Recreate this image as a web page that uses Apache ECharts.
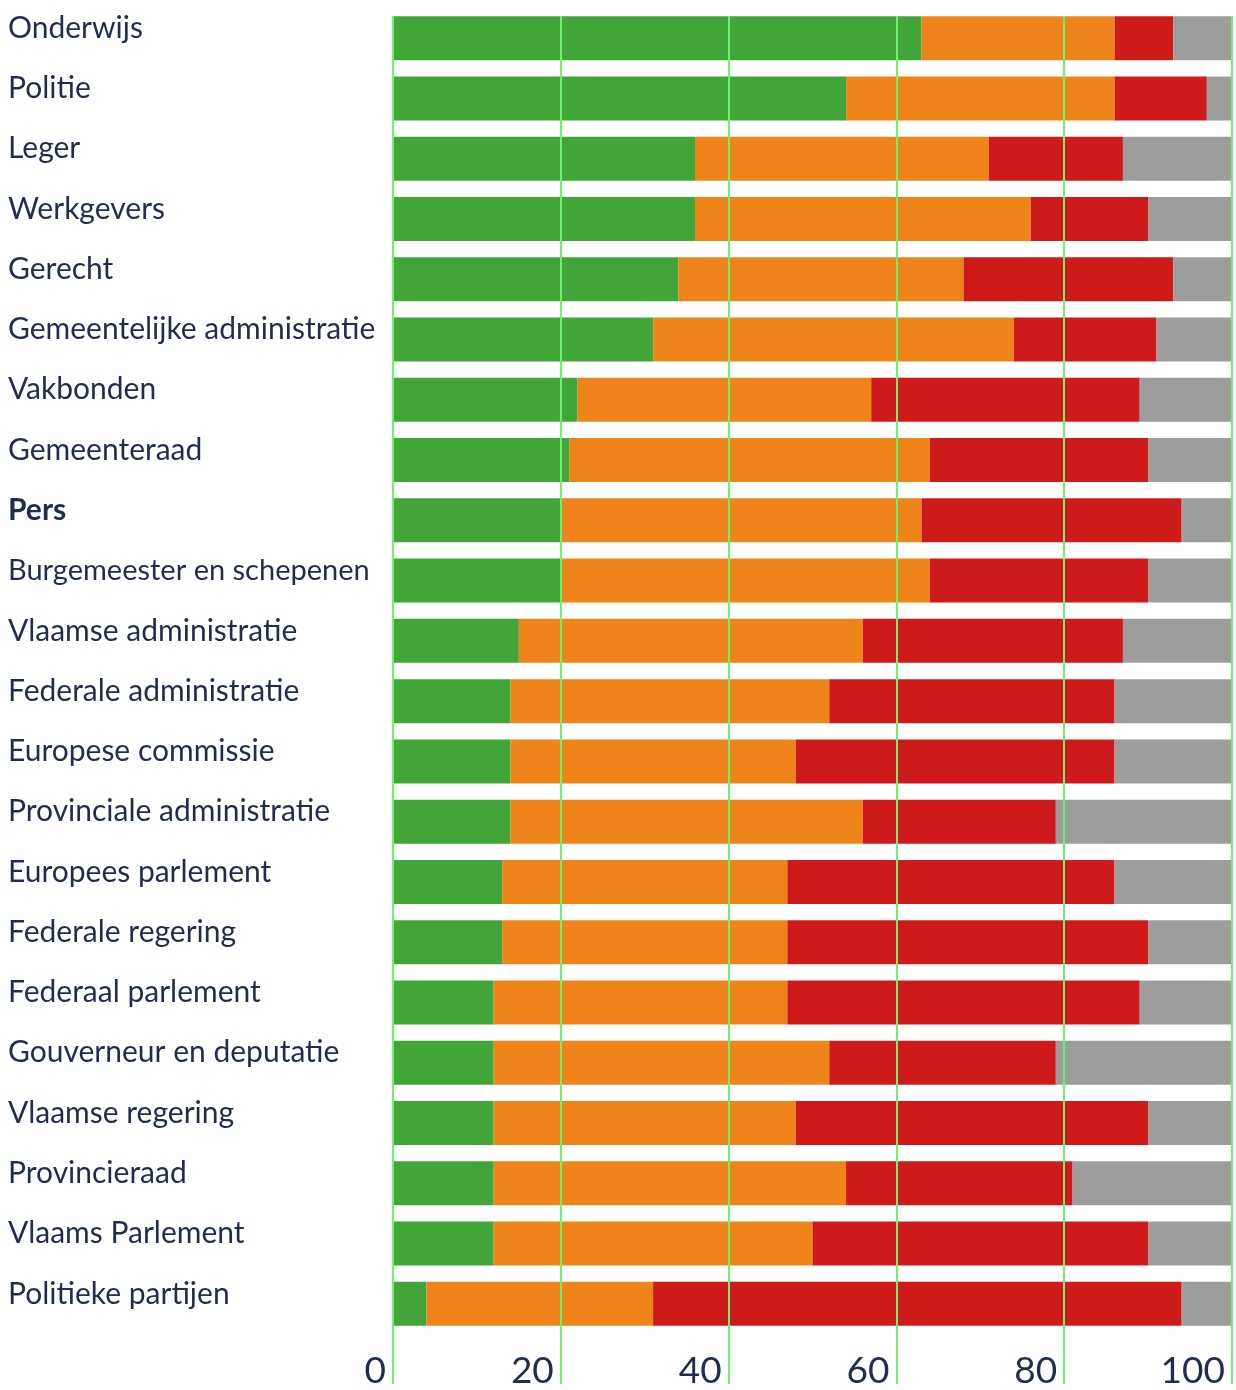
<!DOCTYPE html>
<html><head><meta charset="utf-8">
<script src="https://cdn.jsdelivr.net/npm/echarts@6/dist/echarts.min.js"></script>
<style>html,body{margin:0;padding:0;background:#fff}#c{width:1236px;height:1390px}</style>
</head><body><div id="c"></div>
<script>
const categories = ["Onderwijs","Politie","Leger","Werkgevers","Gerecht","Gemeentelijke administratie","Vakbonden","Gemeenteraad","Pers","Burgemeester en schepenen","Vlaamse administratie","Federale administratie","Europese commissie","Provinciale administratie","Europees parlement","Federale regering","Federaal parlement","Gouverneur en deputatie","Vlaamse regering","Provincieraad","Vlaams Parlement","Politieke partijen"];
const groen  = [63,54,36,36,34,31,22,21,20,20,15,14,14,14,13,13,12,12,12,12,12,4];
const oranje = [23,32,35,40,34,43,35,43,43,44,41,38,34,42,34,34,35,40,36,42,38,27];
const rood   = [7,11,16,14,25,17,32,26,31,26,31,34,38,23,39,43,42,27,42,27,40,63];
const grijs  = [7,3,13,10,7,9,11,10,6,10,13,14,14,21,14,10,11,21,10,19,10,6];
const xTicks = [0,20,40,60,80,100];

const FONT = 'Lato';
const NAVY = '#1f2d4e';
const chart = echarts.init(document.getElementById('c'), null, {renderer:'canvas'});
function s(name, data, color){
  return {name, type:'bar', stack:'t', data, xAxisIndex:0, yAxisIndex:0,
    barCategoryGap:'27%', itemStyle:{color}, emphasis:{disabled:true}};
}
chart.setOption({
  animation:false,
  backgroundColor:'#fff',
  grid:[
    {left:393, top:8, width:839, height:1326},
    {left:393, top:16, width:839, bottom:0}
  ],
  xAxis:[
    {gridIndex:0, type:'value', min:0, max:100, show:false},
    {gridIndex:1, type:'value', min:xTicks[0], max:xTicks[xTicks.length-1], interval:20, z:10,
     axisLine:{show:false}, axisTick:{show:false},
     splitLine:{show:true, lineStyle:{color:'#6ef26e', width:2}},
     axisLabel:{inside:true, align:'right', verticalAlign:'bottom', margin:-6, padding:[0,7,0,0],
       fontSize:37, fontFamily:FONT, color:NAVY}}
  ],
  yAxis:[
    {gridIndex:0, type:'category', inverse:true, data:categories,
     axisLine:{show:false}, axisTick:{show:false}, splitLine:{show:false},
     axisLabel:{align:'left', margin:385, fontSize:30, fontFamily:FONT, color:NAVY,
       verticalAlign:'middle', padding:[0,0,20,0],
       formatter: v => v === 'Pers' ? '{b|'+v+'}' : (v === 'Burgemeester en schepenen' ? '{n|'+v+'}' : v),
       rich:{b:{fontWeight:'bold', fontSize:30, fontFamily:FONT, color:NAVY},
             n:{fontSize:29, fontFamily:FONT, color:NAVY}}}},
    {gridIndex:1, type:'value', show:false, min:0, max:1}
  ],
  series:[
    s('groen', groen, '#41a637'),
    s('oranje', oranje, '#ef841b'),
    s('rood', rood, '#cf1a1b'),
    s('grijs', grijs, '#9d9d9b')
  ]
});
</script></body></html>
